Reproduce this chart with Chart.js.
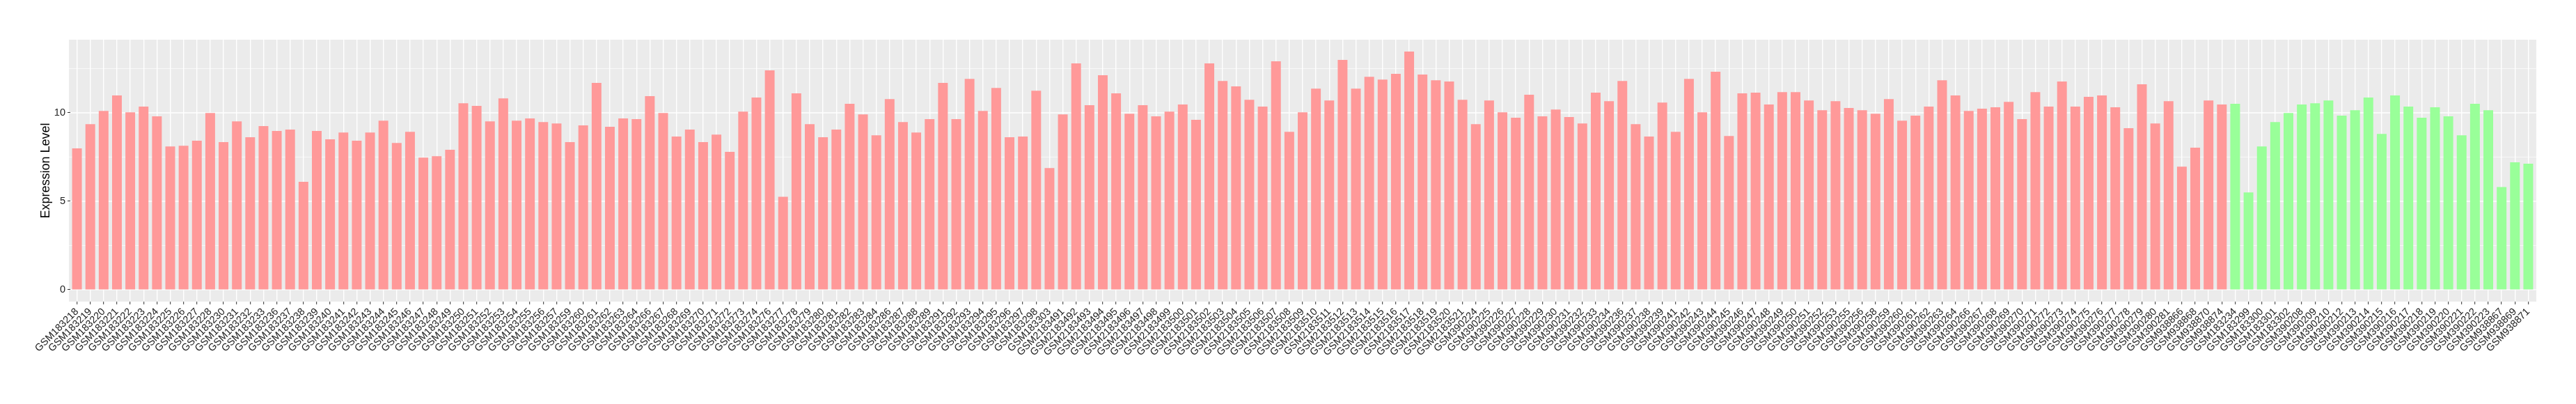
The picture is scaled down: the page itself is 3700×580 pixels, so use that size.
<!DOCTYPE html>
<html><head><meta charset="utf-8">
<script src="https://cdn.jsdelivr.net/npm/chart.js@4.4.1/dist/chart.umd.min.js"></script>
<style>html,body{margin:0;padding:0;background:#fff}#wrap{width:3700px;height:580px}</style>
</head><body><div id="wrap"><canvas id="c" width="3700" height="580"></canvas></div>
<script>
const categories = [
"GSM183218","GSM183219","GSM183220","GSM183221","GSM183222","GSM183223","GSM183224","GSM183225","GSM183226","GSM183227",
"GSM183228","GSM183230","GSM183231","GSM183232","GSM183233","GSM183236","GSM183237","GSM183238","GSM183239","GSM183240",
"GSM183241","GSM183242","GSM183243","GSM183244","GSM183245","GSM183246","GSM183247","GSM183248","GSM183249","GSM183250",
"GSM183251","GSM183252","GSM183253","GSM183254","GSM183255","GSM183256","GSM183257","GSM183259","GSM183260","GSM183261",
"GSM183262","GSM183263","GSM183264","GSM183266","GSM183267","GSM183268","GSM183269","GSM183270","GSM183271","GSM183272",
"GSM183273","GSM183274","GSM183276","GSM183277","GSM183278","GSM183279","GSM183280","GSM183281","GSM183282","GSM183283",
"GSM183284","GSM183286","GSM183287","GSM183288","GSM183289","GSM183291","GSM183292","GSM183293","GSM183294","GSM183295",
"GSM183296","GSM183297","GSM183298","GSM183303","GSM2183491","GSM2183492","GSM2183493","GSM2183494","GSM2183495","GSM2183496",
"GSM2183497","GSM2183498","GSM2183499","GSM2183500","GSM2183501","GSM2183502","GSM2183503","GSM2183504","GSM2183505","GSM2183506",
"GSM2183507","GSM2183508","GSM2183509","GSM2183510","GSM2183511","GSM2183512","GSM2183513","GSM2183514","GSM2183515","GSM2183516",
"GSM2183517","GSM2183518","GSM2183519","GSM2183520","GSM2183521","GSM390224","GSM390225","GSM390226","GSM390227","GSM390228",
"GSM390229","GSM390230","GSM390231","GSM390232","GSM390233","GSM390234","GSM390236","GSM390237","GSM390238","GSM390239",
"GSM390241","GSM390242","GSM390243","GSM390244","GSM390245","GSM390246","GSM390247","GSM390248","GSM390249","GSM390250",
"GSM390251","GSM390252","GSM390253","GSM390255","GSM390256","GSM390258","GSM390259","GSM390260","GSM390261","GSM390262",
"GSM390263","GSM390264","GSM390266","GSM390267","GSM390268","GSM390269","GSM390270","GSM390271","GSM390272","GSM390273",
"GSM390274","GSM390275","GSM390276","GSM390277","GSM390278","GSM390279","GSM390280","GSM390281","GSM938866","GSM938868",
"GSM938870","GSM938874","GSM183234","GSM183299","GSM183300","GSM183301","GSM183302","GSM390208","GSM390209","GSM390210",
"GSM390212","GSM390213","GSM390214","GSM390215","GSM390216","GSM390217","GSM390218","GSM390219","GSM390220","GSM390221",
"GSM390222","GSM390223","GSM938867","GSM938869","GSM938871"
];
const values = [
7.99,9.36,10.11,10.98,10.03,10.35,9.80,8.10,8.14,8.42,
9.99,8.34,9.52,8.62,9.25,8.97,9.05,6.10,8.97,8.50,
8.89,8.42,8.89,9.56,8.30,8.93,7.47,7.55,7.91,10.54,
10.39,9.52,10.82,9.56,9.68,9.48,9.40,8.34,9.29,11.69,
9.21,9.68,9.64,10.94,9.99,8.66,9.05,8.34,8.77,7.79,
10.07,10.86,12.40,5.25,11.10,9.36,8.62,9.05,10.51,9.91,
8.73,10.78,9.48,8.89,9.64,11.69,9.64,11.92,10.11,11.41,
8.62,8.66,11.25,6.88,9.91,12.79,10.43,12.12,11.10,9.95,
10.43,9.80,10.07,10.47,9.60,12.79,11.80,11.49,10.74,10.35,
12.91,8.93,10.03,11.37,10.70,12.99,11.37,12.04,11.88,12.20,
13.46,12.16,11.84,11.77,10.74,9.36,10.70,10.03,9.72,11.02,
9.80,10.19,9.76,9.40,11.14,10.66,11.80,9.36,8.66,10.58,
8.93,11.92,10.03,12.32,8.69,11.10,11.14,10.47,11.17,11.17,
10.70,10.15,10.66,10.27,10.15,9.95,10.78,9.56,9.84,10.35,
11.84,10.98,10.11,10.23,10.31,10.62,9.64,11.17,10.35,11.77,
10.35,10.90,10.98,10.31,9.13,11.61,9.40,10.66,6.96,8.03,
10.70,10.47,10.51,5.50,8.10,9.48,9.99,10.47,10.54,10.70,
9.84,10.15,10.86,8.81,10.98,10.35,9.72,10.31,9.80,8.73,
10.51,10.15,5.80,7.20,7.12
];
const groups = categories.map((c, i) => i < 162 ? "A" : "B");
const groupColors = { A: "#FF9999", B: "#99FF99" };
const yMajorTicks = [0, 5, 10];
const yMinorTicks = [2.5, 7.5, 12.5];
const yLimits = [-0.673, 14.133];

const panelPlugin = {
  id: 'panel',
  beforeDraw(chart) {
    const { ctx, chartArea: a, scales } = chart;
    const ext = (a.right - a.left) / categories.length * 0.1;
    ctx.save();
    ctx.fillStyle = '#EBEBEB';
    ctx.fillRect(a.left - ext, a.top, (a.right - a.left) + 2 * ext, a.bottom - a.top);
    ctx.strokeStyle = '#FFFFFF';
    const y = scales.y;
    yMinorTicks.forEach(v => {
      const p = y.getPixelForValue(v);
      ctx.lineWidth = 0.7;
      ctx.beginPath(); ctx.moveTo(a.left - ext, p); ctx.lineTo(a.right + ext, p); ctx.stroke();
    });
    yMajorTicks.forEach(v => {
      const p = y.getPixelForValue(v);
      ctx.lineWidth = 1.4;
      ctx.beginPath(); ctx.moveTo(a.left - ext, p); ctx.lineTo(a.right + ext, p); ctx.stroke();
    });
    ctx.restore();
  }
};

new Chart(document.getElementById('c'), {
  type: 'bar',
  data: {
    labels: categories,
    datasets: [{
      data: values,
      backgroundColor: groups.map(g => groupColors[g]),
      borderWidth: 0,
      barPercentage: 0.73,
      categoryPercentage: 1.0
    }]
  },
  options: {
    responsive: false,
    devicePixelRatio: 1,
    animation: false,
    layout: { padding: { left: 55, right: 59, top: 57, bottom: 0 } },
    plugins: { legend: { display: false }, tooltip: { enabled: false } },
    scales: {
      x: {
        type: 'category',
        offset: true,
        border: { display: false },
        grid: { offset: false, color: '#FFFFFF', lineWidth: 1.4, drawTicks: true, tickLength: 4, tickColor: '#333333', tickWidth: 1 },
        ticks: { autoSkip: false, maxRotation: 45, minRotation: 45, padding: 2, color: '#222222', font: { family: 'Liberation Sans', size: 14.5 } },
        afterFit: (s) => { s.height = 147; }
      },
      y: {
        min: yLimits[0], max: yLimits[1],
        border: { display: false },
        afterBuildTicks: (s) => { s.ticks = [...yMajorTicks, ...yMinorTicks].sort((a, b) => a - b).map(v => ({ value: v })); },
        grid: {
          drawOnChartArea: false, drawTicks: true, tickLength: 4, tickWidth: 1,
          tickColor: (c) => (c.tick && yMajorTicks.includes(c.tick.value)) ? '#333333' : 'rgba(0,0,0,0)'
        },
        ticks: {
          padding: 3, color: '#222222', font: { family: 'Liberation Sans', size: 14.5 },
          callback: (v) => yMajorTicks.includes(v) ? String(v) : ''
        },
        title: { display: true, text: 'Expression Level', color: '#000000', padding: 0, font: { family: 'Liberation Sans', size: 18 } },
        afterFit: (s) => { s.width = 46; }
      }
    }
  },
  plugins: [panelPlugin]
});
</script>
</body></html>
